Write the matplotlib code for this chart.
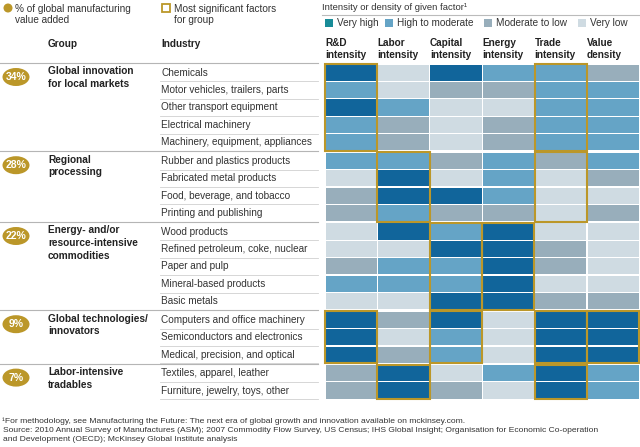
import matplotlib
matplotlib.use("Agg")
import matplotlib.pyplot as plt
from matplotlib.patches import Rectangle, Ellipse, Circle

plt.rcParams["font.family"] = ["Liberation Sans", "DejaVu Sans"]

# ---- data ----
groups = [
    "Global innovation\nfor local markets",
    "Regional\nprocessing",
    "Energy- and/or\nresource-intensive\ncommodities",
    "Global technologies/\ninnovators",
    "Labor-intensive\ntradables",
]
group_share = ["34%", "28%", "22%", "9%", "7%"]

industries = [
    ["Chemicals", "Motor vehicles, trailers, parts", "Other transport equipment",
     "Electrical machinery", "Machinery, equipment, appliances"],
    ["Rubber and plastics products", "Fabricated metal products",
     "Food, beverage, and tobacco", "Printing and publishing"],
    ["Wood products", "Refined petroleum, coke, nuclear", "Paper and pulp",
     "Mineral-based products", "Basic metals"],
    ["Computers and office machinery", "Semiconductors and electronics",
     "Medical, precision, and optical"],
    ["Textiles, apparel, leather", "Furniture, jewelry, toys, other"],
]

factors = ["R&D\nintensity", "Labor\nintensity", "Capital\nintensity",
           "Energy\nintensity", "Trade\nintensity", "Value\ndensity"]

level_names = ["Very high", "High to moderate", "Moderate to low", "Very low"]

# 3 = very high, 2 = high to moderate, 1 = moderate to low, 0 = very low
levels = [
    [[3, 0, 3, 2, 2, 1],
     [2, 0, 1, 1, 2, 2],
     [3, 2, 0, 0, 2, 2],
     [2, 1, 0, 1, 2, 2],
     [2, 1, 0, 1, 2, 2]],
    [[2, 2, 1, 2, 1, 2],
     [0, 3, 0, 2, 0, 1],
     [1, 3, 3, 2, 0, 0],
     [1, 2, 1, 1, 0, 1]],
    [[0, 3, 2, 3, 0, 0],
     [0, 0, 3, 3, 1, 0],
     [1, 2, 2, 3, 1, 0],
     [2, 2, 2, 3, 0, 0],
     [0, 0, 3, 3, 1, 1]],
    [[3, 1, 3, 0, 3, 3],
     [3, 0, 2, 0, 3, 3],
     [3, 1, 2, 0, 3, 3]],
    [[1, 3, 0, 2, 3, 2],
     [1, 3, 1, 0, 3, 2]],
]

# most significant factors per group (column indices)
significant = [[0, 4], [1, 4], [2, 3], [0, 2, 4, 5], [1, 4]]

footnotes = [
    "\u00b9For methodology, see Manufacturing the Future: The next era of global "
    "growth and innovation available on mckinsey.com.",
    "Source: 2010 Annual Survey of Manufactures (ASM); 2007 Commodity Flow Survey, "
    "US Census; IHS Global Insight; Organisation for Economic Co-operation",
    "and Development (OECD); McKinsey Global Institute analysis",
]

# ---- style ----
cell_colors = {3: "#11659b", 2: "#65a4c6", 1: "#98aebb", 0: "#cfdbe2"}
legend_colors = ["#188c98", "#65a4c6", "#98aebb", "#cfdbe2"]
gold = "#bb9729"
text_col = "#333333"

W, H = 640, 447
fig = plt.figure(figsize=(W / 100, H / 100), dpi=100)
ax = fig.add_axes([0, 0, 1, 1])
ax.set_xlim(0, W)
ax.set_ylim(H, 0)
ax.axis("off")

x_heat = 325
col_w = 52.4
y_top = 64
row_h = 17.4
gap = 1.2
x_group = 48
x_ind = 161
line_end = 318

fs = 7.2

# ---- top legends ----
ax.add_patch(Circle((8, 8), 4.5, color=gold, lw=0))
ax.text(15, 3.5, "% of global manufacturing\nvalue added", fontsize=fs, color=text_col,
        va="top", linespacing=1.15)
ax.add_patch(Rectangle((161.5, 4), 8, 8, fill=False, ec=gold, lw=1.3))
ax.text(174, 3.5, "Most significant factors\nfor group", fontsize=fs, color=text_col,
        va="top", linespacing=1.15)

ax.text(322, 7, "Intensity or density of given factor\u00b9", fontsize=fs - 0.4,
        color=text_col, va="center")
ax.plot([322, W], [14.5, 14.5], color="#bbbbbb", lw=0.8)
leg_x = [325, 385, 484, 578]
for lx, name, c in zip(leg_x, level_names, legend_colors):
    ax.add_patch(Rectangle((lx, 19), 8, 8, color=c, lw=0))
    ax.text(lx + 12, 23.5, name, fontsize=fs, color=text_col, va="center")

# ---- column headers ----
ax.text(x_group, 44, "Group", fontsize=fs, fontweight="bold", color="#222222", va="center")
ax.text(x_ind, 44, "Industry", fontsize=fs, fontweight="bold", color="#222222", va="center")
for j, f in enumerate(factors):
    ax.text(x_heat + j * col_w, 60, f, fontsize=fs, fontweight="bold",
            color="#222222", va="bottom", linespacing=1.2)

# ---- body ----
y = y_top
for g, (gname, share, inds, rows) in enumerate(zip(groups, group_share, industries, levels)):
    g_start = y
    # group separator
    ax.plot([0, line_end], [g_start - 0.8, g_start - 0.8], color="#b5b5b5", lw=0.8)
    ax.add_patch(Ellipse((16, g_start + 13), 27, 18, color=gold, lw=0))
    ax.text(16, g_start + 13, share, fontsize=fs + 0.3, fontweight="bold",
            color="white", ha="center", va="center")
    ax.text(x_group, g_start + 2.5, gname, fontsize=fs + 0.1, fontweight="bold",
            color="#222222", va="top", linespacing=1.32)
    for i, (ind, row) in enumerate(zip(inds, rows)):
        ry = g_start + i * row_h
        ax.text(x_ind, ry + row_h / 2, ind, fontsize=fs, color=text_col, va="center")
        ax.plot([160, line_end], [ry + row_h, ry + row_h], color="#d0d0d0", lw=0.6)
        for j, lv in enumerate(row):
            ax.add_patch(Rectangle((x_heat + j * col_w + 0.5, ry + 0.5),
                                   col_w - 1.2, row_h - 1.2,
                                   color=cell_colors[lv], lw=0))
    g_h = len(inds) * row_h
    for j in significant[g]:
        ax.add_patch(Rectangle((x_heat + j * col_w, g_start), col_w - 0.3, g_h - 0.3,
                               fill=False, ec=gold, lw=1.5, zorder=5))
    y = g_start + g_h + gap

# ---- footnotes ----
for k, (note, fy) in enumerate(zip(footnotes, [421, 430.5, 439.5])):
    ax.text(2 if k == 0 else 3, fy, note, fontsize=6.1, color=text_col, va="center")

fig.savefig("out.png", dpi=100)
